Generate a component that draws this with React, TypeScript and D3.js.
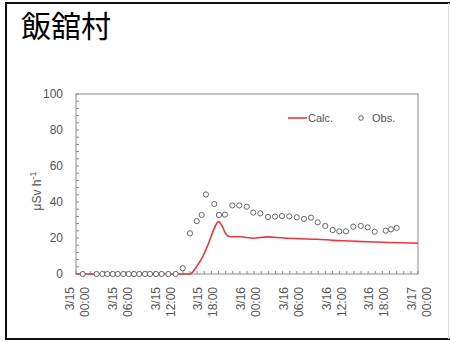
import React from "react";
import * as d3 from "d3";

// Air dose rate at Iitate, 3/15 00:00 – 3/17 00:00 (hours from start)
const calcHours = [0, 16.0, 17.0, 17.9, 18.6, 19.3, 20.0, 20.4, 21.0, 21.6, 23.0, 24.9, 26.8, 29.1, 31.4, 33.8, 36.1, 38.5, 40.8, 43.1, 45.5, 48.0];
const calcValues = [0, 0, 4.5, 10.5, 17.0, 24.4, 29.1, 27.5, 22.5, 20.7, 20.7, 19.9, 20.6, 20.0, 19.6, 19.3, 18.7, 18.3, 17.9, 17.6, 17.4, 17.1];

const obsHours = [0.94, 2.9, 3.7, 4.4, 5.15, 5.85, 6.64, 7.4, 8.14, 8.88, 9.68, 10.39, 11.23, 12.03, 12.95, 13.99, 14.98, 16.0, 16.94, 17.64, 18.23, 19.41, 20.07, 20.91, 21.94, 22.92, 23.96, 24.88, 25.87, 26.95, 27.93, 28.91, 29.94, 30.98, 32.0, 32.98, 33.92, 34.99, 36.03, 36.95, 37.89, 38.92, 39.96, 40.94, 41.92, 43.47, 44.21, 45.0];
const obsValues = [0, 0, 0, 0, 0, 0, 0, 0, 0, 0, 0, 0, 0, 0, 0, 0, 3.2, 22.6, 29.4, 32.8, 44.2, 38.9, 32.8, 33.0, 38.1, 38.1, 37.4, 34.1, 33.7, 31.7, 31.9, 32.2, 32.0, 31.5, 30.6, 31.3, 28.7, 26.7, 24.4, 23.7, 23.7, 26.3, 26.7, 25.9, 23.5, 24.1, 24.8, 25.6];

const yTicks = [0, 20, 40, 60, 80, 100];
const xTickHours = [0, 6, 12, 18, 24, 30, 36, 42, 48];
const xTickDates = ["3/15", "3/15", "3/15", "3/15", "3/16", "3/16", "3/16", "3/16", "3/17"];
const xTickTimes = ["00:00", "06:00", "12:00", "18:00", "00:00", "06:00", "12:00", "18:00", "00:00"];

const title = "飯舘村";
const calcLabel = "Calc.";
const obsLabel = "Obs.";

const W = 450;
const H = 342;
const plot = { left: 76, right: 418, top: 94, bottom: 274 };
const axisGray = "#8a8a8a";
const textGray = "#555";
const red = "#e8383d";
const font = "'Liberation Sans', Arial, sans-serif";

export default function App() {
  const x = d3.scaleLinear().domain([0, 48]).range([plot.left, plot.right]);
  const y = d3.scaleLinear().domain([0, 100]).range([plot.bottom, plot.top]);

  const line = d3
    .line<number>()
    .x((_, i) => x(calcHours[i]))
    .y((v) => y(v))
    .curve(d3.curveMonotoneX);

  const minorY = d3.range(0, 101, 4);
  const minorX = d3.range(0, 49, 1);

  return (
    <svg
      width={W}
      height={H}
      style={{ position: "absolute", left: 0, top: 0, background: "#fff" }}
      fontFamily={font}
    >
      {/* outer frame */}
      <rect x={6} y={3} width={446} height={336} fill="none" stroke="#111" strokeWidth={2} />
      <line x1={448.5} y1={3} x2={448.5} y2={339} stroke="#ddd" strokeWidth={1} />

      <text x={21} y={37} fontFamily="'Noto Sans CJK JP', sans-serif" fontSize={30} fill="#000">
        {title}
      </text>

      {/* plot box */}
      <rect
        x={plot.left}
        y={plot.top}
        width={plot.right - plot.left}
        height={plot.bottom - plot.top}
        fill="none"
        stroke={axisGray}
        strokeWidth={1}
      />

      {/* y minor ticks */}
      {minorY.map((v) => (
        <line key={"my" + v} x1={plot.left} x2={plot.left + 3} y1={y(v)} y2={y(v)} stroke={axisGray} strokeWidth={1} />
      ))}
      {/* x hourly ticks */}
      {minorX.map((h) => (
        <line key={"mx" + h} x1={x(h)} x2={x(h)} y1={plot.bottom} y2={plot.bottom - 3} stroke={axisGray} strokeWidth={1} />
      ))}

      {/* y tick labels */}
      {yTicks.map((v) => (
        <text key={"yt" + v} x={63} y={y(v)} dy="0.35em" textAnchor="end" fontSize={12} fill={textGray}>
          {v}
        </text>
      ))}

      {/* y axis title */}
      <text
        transform={`translate(41, 191) rotate(-90)`}
        textAnchor="middle"
        fontSize={12}
        fill={textGray}
      >
        μSv h<tspan dy={-5} fontSize={9}>-1</tspan>
      </text>

      {/* x tick labels, two rotated lines */}
      {xTickHours.map((h, i) => (
        <g key={"xt" + h} transform={`translate(${x(h)}, 287) rotate(-90)`}>
          <text x={0} y={-2} textAnchor="end" fontSize={12} fill={textGray}>
            {xTickDates[i]}
          </text>
          <text x={0} y={13} textAnchor="end" fontSize={12} fill={textGray}>
            {xTickTimes[i]}
          </text>
        </g>
      ))}

      {/* calculated series */}
      <path d={line(calcValues) ?? ""} fill="none" stroke={red} strokeWidth={1.6} />

      {/* observed series */}
      {obsValues.map((v, i) => (
        <circle key={"o" + i} cx={x(obsHours[i])} cy={y(v)} r={2.6} fill="#fff" stroke="#666" strokeWidth={1} />
      ))}

      {/* legend */}
      <line x1={288} x2={307} y1={118} y2={118} stroke={red} strokeWidth={1.6} />
      <text x={308} y={118} dy="0.35em" fontSize={11} fill={textGray}>
        {calcLabel}
      </text>
      <circle cx={361} cy={118} r={2.3} fill="#fff" stroke="#666" strokeWidth={1} />
      <text x={372} y={118} dy="0.35em" fontSize={11} fill={textGray}>
        {obsLabel}
      </text>
    </svg>
  );
}
